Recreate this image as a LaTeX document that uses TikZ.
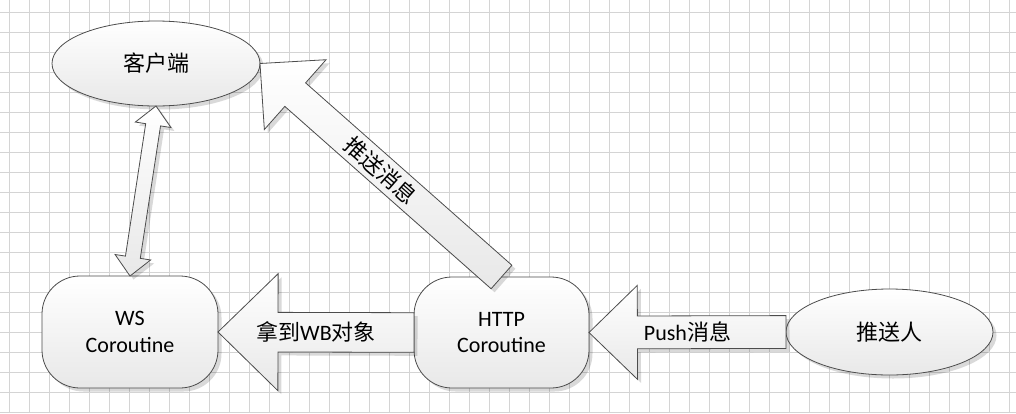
\documentclass[tikz,border=0pt]{standalone}
\usepackage{fontspec}
\setmainfont{Carlito}
\newfontfamily\cjk{Noto Sans CJK SC}
\usetikzlibrary{calc,shapes.geometric,shadows}
\tikzset{
  gridline/.style={draw=black!17, line width=0.9pt},
  shapefill/.style={draw=black!70, line width=0.8pt, top color=white, bottom color=black!9,
    drop shadow={shadow xshift=3.5pt, shadow yshift=-3.5pt, fill=black, opacity=0.15}},
  oval/.style={shapefill, ellipse, inner sep=0pt, outer sep=0pt, font=\fontsize{22}{26.7}\selectfont},
  roundbox/.style={shapefill, rectangle, rounded corners=38pt, inner sep=0pt, outer sep=0pt,
    align=center, font=\fontsize{22}{26.7}\selectfont},
  blockarrow/.style={shapefill, line join=miter},
  lbl/.style={inner sep=0pt, font=\fontsize{22}{26.7}\selectfont},
}
% #1 tip, #2 tail, #3 head length, #4 head half width, #5 shaft half width, #6 name prefix
\newcommand\singlearrow[6]{%
  \coordinate (#6h) at ($(#1)!#3!(#2)$);
  \draw[blockarrow] (#1)
    -- ($(#6h)!#4!90:(#2)$) -- ($(#6h)!#5!90:(#2)$)
    -- ($(#2)!#5!-90:(#1)$) -- ($(#2)!#5!90:(#1)$)
    -- ($(#6h)!#5!-90:(#2)$) -- ($(#6h)!#4!-90:(#2)$) -- cycle;
}
% #1 tip one, #2 tip two
\newcommand\doublearrow[6]{%
  \coordinate (#6p) at ($(#1)!#3!(#2)$);
  \coordinate (#6q) at ($(#2)!#3!(#1)$);
  \draw[blockarrow] (#1)
    -- ($(#6p)!#4!90:(#2)$) -- ($(#6p)!#5!90:(#2)$)
    -- ($(#6q)!#5!-90:(#1)$) -- ($(#6q)!#4!-90:(#1)$)
    -- (#2)
    -- ($(#6q)!#4!90:(#1)$) -- ($(#6q)!#5!90:(#1)$)
    -- ($(#6p)!#5!-90:(#2)$) -- ($(#6p)!#4!-90:(#2)$) -- cycle;
}
\begin{document}
\begin{tikzpicture}[x=1pt,y=-1pt]
\useasboundingbox (0,0) rectangle (1016,413);
\fill[white] (0,0) rectangle (1016,413);
% grid
\foreach \i in {0,...,50} \draw[gridline] (9.3+20*\i,0) -- (9.3+20*\i,413);
\foreach \j in {0,...,20} \draw[gridline] (0,12.3+20*\j) -- (1016,12.3+20*\j);

% nodes
\node[oval, minimum width=208pt, minimum height=85pt] (client) at (156,63.5) {\cjk 客户端};
\node[oval, minimum width=207pt, minimum height=86pt] (pusher) at (889.5,332) {\cjk 推送人};
\node[roundbox, minimum width=176pt, minimum height=112pt] (ws) at (130,332) {WS\\Coroutine};
\node[roundbox, minimum width=175pt, minimum height=111pt] (http) at (501.5,332.5) {HTTP\\Coroutine};

% block arrows
\singlearrow{client.east}{http.north}{47pt}{46.6pt}{15.7pt}{a1}
\singlearrow{ws.east}{http.west}{60pt}{58.5pt}{19.8pt}{a2}
\singlearrow{http.east}{pusher.west}{48.4pt}{47pt}{16.4pt}{a3}
\doublearrow{client.south}{ws.north}{19pt}{18pt}{7.5pt}{a4}

% labels
\path (http.north) -- (client.east) node[lbl, midway, sloped] (l1) {\cjk 推送消息};
\path (http.west) -- (ws.east) node[lbl, midway] (l2) {{\cjk 拿到}WB{\cjk 对象}};
\path (pusher.west) -- (http.east) node[lbl, midway] (l3) {Push{\cjk 消息}};
\end{tikzpicture}
\end{document}
